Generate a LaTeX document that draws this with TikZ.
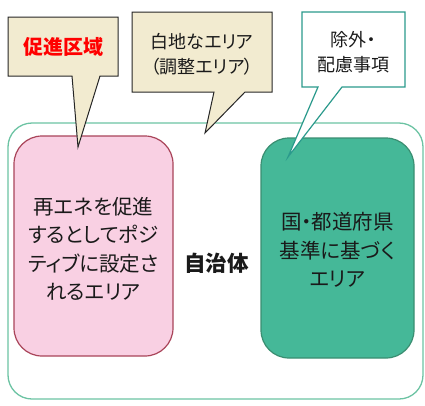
\documentclass[tikz,border=0pt]{standalone}
\usepackage{fontspec}
\setmainfont{Noto Sans CJK JP}[RawFeature=+palt]
\definecolor{calloutfill}{HTML}{F2EBD0}
\definecolor{outerline}{HTML}{6CC3A3}
\definecolor{pinkfill}{HTML}{F9D0E3}
\definecolor{pinkline}{HTML}{A94459}
\definecolor{greenfill}{HTML}{45B898}
\definecolor{greenline}{HTML}{3A8E71}
\definecolor{tealline}{HTML}{2B9A8C}
\definecolor{txtcol}{HTML}{1A1A1A}
\begin{document}
\begin{tikzpicture}[x=1pt,y=-1pt,
  boxtxt/.style={font=\fontsize{20.5}{28.5}\selectfont, align=center, text=txtcol},
  calltxt/.style={font=\fontsize{18}{25}\selectfont, align=center, text=txtcol, inner sep=0pt},
  beigecallout/.style={fill=calloutfill, draw=black!85, line width=1pt, line join=miter},
  whitecallout/.style={fill=white, draw=tealline, line width=1.2pt, line join=miter},
  areabox/.style={rounded corners=28pt, line width=1.2pt, minimum height=220pt},
]
\useasboundingbox (0,0) rectangle (425,405);
% outer frame
\node[draw=outerline, line width=1.3pt, rounded corners=24pt,
      minimum width=415pt, minimum height=276pt, inner sep=0pt] (outer) at (215.5,261) {};
% pink area
\node[areabox, draw=pinkline, fill=pinkfill, minimum width=159pt] (pink) at (93.5,246) {};
\node[boxtxt] (pinktxt) at (93.5,249) {再エネを促進\\するとしてポジ\\ティブに設定さ\\れるエリア};
% green area
\node[areabox, draw=greenline, fill=greenfill, minimum width=153pt] (green) at (337.5,248) {};
\node[boxtxt] (greentxt) at (337.5,250) {国・都道府県\\基準に基づく\\エリア};
% centre label
\node[font=\fontsize{21.5}{24}\selectfont\bfseries, text=txtcol] (jichitai) at (216.5,263) {自治体};
% callout 1
\draw[beigecallout] (8,17) -- (118,17) -- (118,76) -- (100,76) -- (78,147) -- (72,76) -- (8,76) -- cycle;
\node[font=\fontsize{20}{24}\selectfont\bfseries, text=red] (c1) at (63,47) {促進区域};
% callout 2
\draw[beigecallout] (132,12) -- (272,12) -- (272,92) -- (245,92) -- (205,133) -- (214,92) -- (132,92) -- cycle;
\node[calltxt] (c2) at (202,54) {白地なエリア\\（調整エリア）};
% callout 3
\draw[whitecallout] (302,12) -- (405,12) -- (405,87) -- (342,87) -- (288,157) -- (318,87) -- (302,87) -- cycle;
\node[calltxt] (c3) at (353,52) {除外・\\配慮事項};
\end{tikzpicture}
\end{document}
